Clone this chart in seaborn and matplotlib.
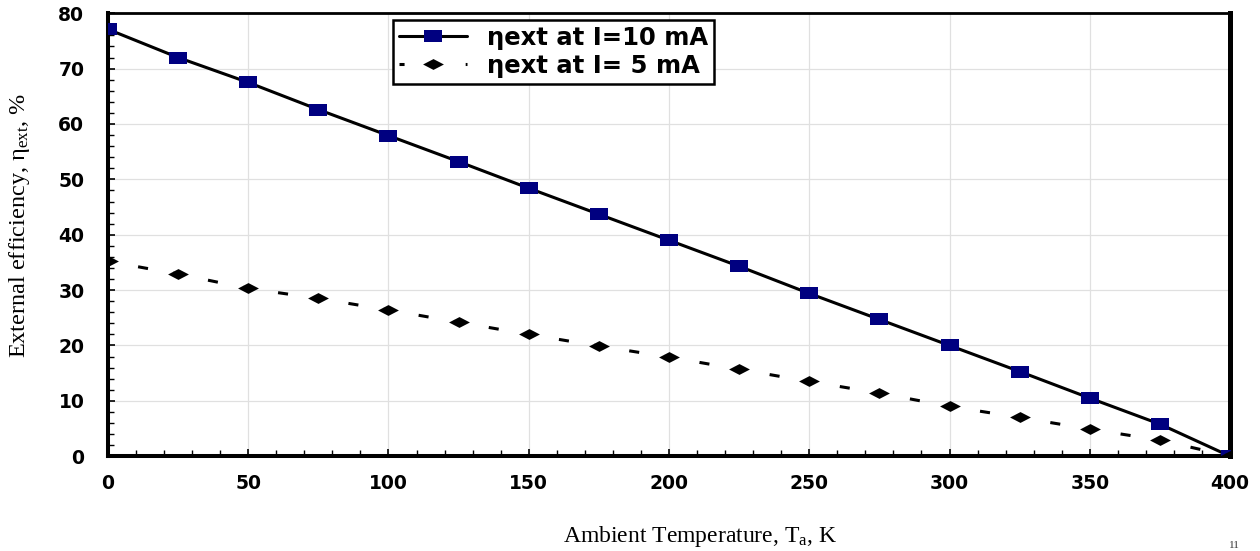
import numpy as np
import pandas as pd
import matplotlib
matplotlib.use("Agg")
import matplotlib.pyplot as plt
import seaborn as sns
from matplotlib.path import Path
from matplotlib.ticker import MultipleLocator

# ---- data ----
temperature = [0, 25, 50, 75, 100, 125, 150, 175, 200, 225, 250, 275, 300, 325, 350, 375, 400]
eta_10mA = [77.1, 72.0, 67.5, 62.6, 57.9, 53.2, 48.4, 43.7, 39.0, 34.3, 29.4, 24.7, 20.0, 15.3, 10.5, 5.8, 0.0]
eta_5mA = [35.2, 32.9, 30.3, 28.5, 26.4, 24.2, 22.0, 19.9, 17.9, 15.7, 13.5, 11.4, 9.0, 7.0, 4.9, 2.9, 0.0]
label_10 = "ηext at I=10 mA"
label_5 = "ηext at I= 5 mA"
x_ticks = [0, 50, 100, 150, 200, 250, 300, 350, 400]
y_ticks = [0, 10, 20, 30, 40, 50, 60, 70, 80]

sns.set_theme(style="white")
plt.rcParams['font.family'] = ['DejaVu Sans']
plt.rcParams['mathtext.fontset'] = 'custom'
plt.rcParams['mathtext.rm'] = 'Liberation Serif'
plt.rcParams['mathtext.it'] = 'Liberation Serif:italic'
for k in ['text.color', 'axes.labelcolor', 'xtick.color', 'ytick.color']:
    plt.rcParams[k] = 'black'

df = pd.DataFrame({"T": temperature, "e10": eta_10mA, "e5": eta_5mA})

fig = plt.figure(figsize=(12.6, 5.51), dpi=100)
ax = fig.add_axes([0.0857, 0.172, 0.8905, 0.804])

rect = Path([(-1, -0.61), (1, -0.61), (1, 0.61), (-1, 0.61), (-1, -0.61)],
            [Path.MOVETO, Path.LINETO, Path.LINETO, Path.LINETO, Path.CLOSEPOLY])
diamond = Path([(-1, 0), (0, 0.52), (1, 0), (0, -0.52), (-1, 0)],
               [Path.MOVETO, Path.LINETO, Path.LINETO, Path.LINETO, Path.CLOSEPOLY])

sns.lineplot(data=df, x="T", y="e10", ax=ax, color="black", linewidth=2.2,
             marker=rect, markersize=13, markerfacecolor="#000080",
             markeredgecolor="#000080", markeredgewidth=0, label=label_10, zorder=3)
sns.lineplot(data=df, x="T", y="e5", ax=ax, color="black", linewidth=2.2,
             linestyle=(1.64, (3.3, 8.35)), marker=diamond, markersize=15,
             markerfacecolor="black", markeredgecolor="black", markeredgewidth=0,
             label=label_5, zorder=3)

ax.set_xlim(0, 400)
ax.set_ylim(0, 80)
ax.set_xticks(x_ticks)
ax.set_yticks(y_ticks)
ax.xaxis.set_minor_locator(MultipleLocator(10))
ax.yaxis.set_minor_locator(MultipleLocator(2))
ax.grid(True, which="major", color="#e0e0e0", linewidth=0.9)
ax.tick_params(axis="both", which="both", direction="in", bottom=True, left=True,
               top=False, right=False)
ax.tick_params(axis="both", which="major", length=5, width=1.2, labelsize=13.5)
ax.tick_params(axis="x", which="major", pad=13)
ax.tick_params(axis="y", which="major", pad=17)
ax.tick_params(axis="both", which="minor", length=4, width=1.0)
for lab in ax.get_xticklabels() + ax.get_yticklabels():
    lab.set_fontweight("heavy")

for side, lw in [("left", 2.9), ("bottom", 2.9), ("right", 3.6), ("top", 2.0)]:
    ax.spines[side].set_visible(True)
    ax.spines[side].set_color("black")
    ax.spines[side].set_linewidth(lw)

ax.set_xlabel(r"Ambient Temperature, T$_\mathregular{a}$, K", family="Liberation Serif",
              fontsize=17, labelpad=22, x=0.5276)
ax.set_ylabel(r"External efficiency, $\mathregular{\eta_{ext}}$, %", family="Liberation Serif",
              fontsize=17.5, labelpad=19, y=0.52)

leg = ax.legend(loc="upper left", bbox_to_anchor=(0.254, 0.985), frameon=True,
                fancybox=False, edgecolor="black", framealpha=1, borderaxespad=0,
                prop={"weight": "heavy", "size": 17.5}, handlelength=2.8,
                borderpad=0.25, labelspacing=0.15, handletextpad=0.8)
leg.get_frame().set_linewidth(1.8)

fig.text(0.98, 0.002, "11", fontsize=8, family="Liberation Serif", color="#333333",
         ha="center", va="bottom")

fig.savefig("out.png", dpi=100)
